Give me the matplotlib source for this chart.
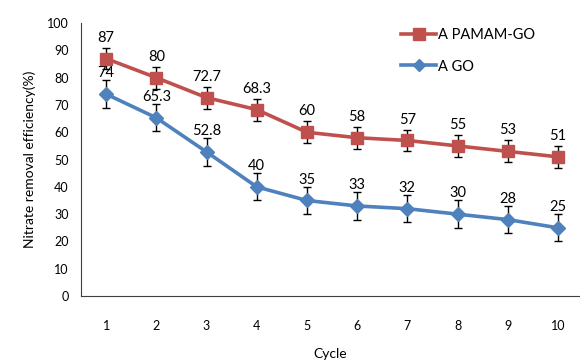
import matplotlib
matplotlib.use("Agg")
import matplotlib.pyplot as plt
from matplotlib.lines import Line2D

cycles = [1, 2, 3, 4, 5, 6, 7, 8, 9, 10]
pamam_go = [87, 80, 72.7, 68.3, 60, 58, 57, 55, 53, 51]
go = [74, 65.3, 52.8, 40, 35, 33, 32, 30, 28, 25]
pamam_err = [4, 4, 4, 4, 4, 4, 4, 4, 4, 4]
go_err = [5, 5, 5, 5, 5, 5, 5, 5, 5, 5]
pamam_labels = ["87", "80", "72.7", "68.3", "60", "58", "57", "55", "53", "51"]
go_labels = ["74", "65.3", "52.8", "40", "35", "33", "32", "30", "28", "25"]

plt.rcParams['font.family'] = ['Lato', 'DejaVu Sans']

fig = plt.figure(figsize=(5.8, 3.61), dpi=100)
ax = fig.add_axes([0.1397, 0.180, 0.8603, 0.756])

red = '#C0504D'
blue = '#4F81BD'

ax.errorbar(cycles, pamam_go, yerr=pamam_err, color=red, lw=2.6, marker='s',
            markersize=9, ecolor='black', elinewidth=1, capsize=3, capthick=1,
            zorder=3)
ax.errorbar(cycles, go, yerr=go_err, color=blue, lw=2.6, marker='D',
            markersize=7, ecolor='black', elinewidth=1, capsize=3, capthick=1,
            zorder=3)

for x, y, t in zip(cycles, pamam_go, pamam_labels):
    ax.annotate(t, (x, y), xytext=(0, 10), textcoords='offset points',
                ha='center', va='bottom', fontsize=10.5, color='black')
for x, y, t in zip(cycles, go, go_labels):
    ax.annotate(t, (x, y), xytext=(0, 10), textcoords='offset points',
                ha='center', va='bottom', fontsize=10.5, color='black')

ax.set_xlim(0.5, 10.44)
ax.set_ylim(0, 100)
ax.set_xticks(cycles)
ax.set_yticks(range(0, 101, 10))
ax.tick_params(axis='both', length=0, labelsize=9)
ax.tick_params(axis='x', pad=17)
ax.tick_params(axis='y', pad=9)
for s in ['top', 'right']:
    ax.spines[s].set_visible(False)
ax.spines['left'].set_color('#404040')
ax.spines['bottom'].set_color('#404040')

ax.set_xlabel('Cycle', fontsize=10, labelpad=12)
ax.set_ylabel('Nitrate removal efficiency(%)', fontsize=10, labelpad=8)

handles = [Line2D([], [], color=red, lw=2.6, marker='s', markersize=8),
           Line2D([], [], color=blue, lw=2.6, marker='D', markersize=6)]
leg = ax.legend(handles, ['A PAMAM-GO', 'A GO'], loc='upper left',
                bbox_to_anchor=(0.615, 1.03), frameon=False,
                fontsize=10.5, handlelength=2.4, labelspacing=1.2,
                handletextpad=0.15)

fig.savefig('out.png', dpi=100)
